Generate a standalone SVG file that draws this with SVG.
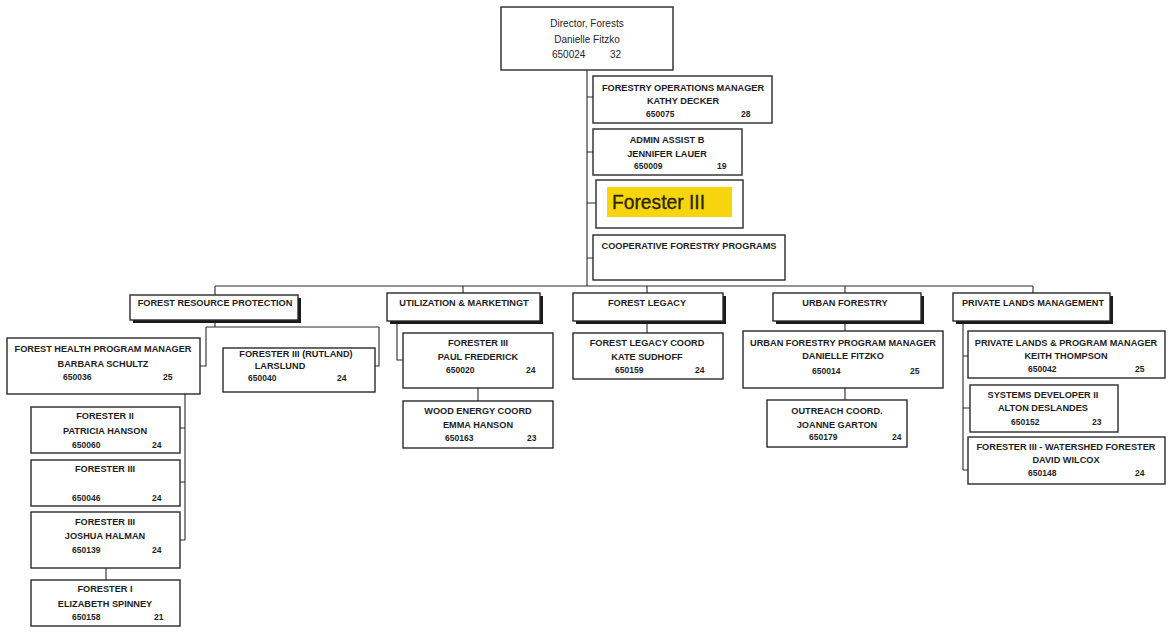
<svg xmlns="http://www.w3.org/2000/svg" width="1172" height="634" viewBox="0 0 1172 634">
<style>
.bx{fill:#fff;stroke:#2a2a2a;stroke-width:1.4}
.sh{fill:#1a1a1a}
.ln{stroke:#2a2a2a;stroke-width:1.1;fill:none}
.t{font-family:"Liberation Sans",Arial,sans-serif;font-weight:bold;font-size:9.2px;fill:#1e1e1e;text-anchor:middle}
.n{font-family:"Liberation Sans",Arial,sans-serif;font-weight:bold;font-size:8.5px;fill:#1e1e1e}
.d{font-family:"Liberation Sans",Arial,sans-serif;font-size:10px;fill:#1e1e1e}
</style>
<rect width="1172" height="634" fill="#fff"/>

<g id="connectors">
<path class="ln" d="M587 70V286M587 97H593M587 152H593M587 203H596M587 258H593"/>
<path class="ln" d="M215 286H1033M215 286V295M463 286V293M647 286V293M845 286V293M1033 286V293"/>
<path class="ln" d="M215 323V327M206 327H379M206 327V366H200M379 327V366H375"/>
<path class="ln" d="M185 394V540M180 428H185M180 482H185M180 540H185M106 568V580"/>
<path class="ln" d="M397 323V360H403M478 388V401"/>
<path class="ln" d="M647 323V333"/>
<path class="ln" d="M845 322V331M845 388V400"/>
<path class="ln" d="M963 322V470M963 356H968M963 408H970M963 470H968"/>
</g>

<g id="director">
<rect class="bx" x="501" y="7" width="172" height="63" stroke-width="1.8"/>
<text class="d" x="587" y="26.5" text-anchor="middle">Director, Forests</text>
<text class="d" x="587" y="42.5" text-anchor="middle">Danielle Fitzko</text>
<text class="d" x="552" y="58">650024</text>
<text class="d" x="610" y="58">32</text>
</g>

<g id="ops-manager">
<rect class="bx" x="593" y="76" width="179" height="47"/>
<text class="t" x="683" y="90.5">FORESTRY OPERATIONS MANAGER</text>
<text class="t" x="683" y="103.5">KATHY DECKER</text>
<text class="n" x="646" y="116.5">650075</text>
<text class="n" x="741" y="116.5">28</text>
</g>

<g id="admin-assist">
<rect class="bx" x="593" y="129" width="149" height="46"/>
<text class="t" x="667" y="142.5">ADMIN ASSIST B</text>
<text class="t" x="667" y="156.5">JENNIFER LAUER</text>
<text class="n" x="634" y="169">650009</text>
<text class="n" x="717" y="169">19</text>
</g>

<g id="forester-iii-top">
<rect class="bx" x="596" y="180" width="147" height="48" stroke-width="1.7"/>
<rect x="607" y="187" width="125" height="30" fill="#f6d50f"/>
<text x="612" y="209" font-family="'Liberation Sans',Arial,sans-serif" font-size="20" fill="#2b2200" stroke="#2b2200" stroke-width="0.3" textLength="93" lengthAdjust="spacingAndGlyphs">Forester III</text>
</g>

<g id="cooperative">
<rect class="bx" x="593" y="235" width="192" height="45"/>
<text class="t" x="689" y="248.5">COOPERATIVE FORESTRY PROGRAMS</text>
</g>

<g id="forest-resource-protection">
<rect class="sh" x="133" y="298" width="168" height="25"/>
<rect class="bx" x="130" y="295" width="168" height="25"/>
<text class="t" x="215" y="306">FOREST RESOURCE PROTECTION</text>
</g>

<g id="utilization">
<rect class="sh" x="390" y="296" width="153" height="28"/>
<rect class="bx" x="387" y="293" width="153" height="28"/>
<text class="t" x="464" y="306">UTILIZATION &amp;  MARKETINGT</text>
</g>

<g id="forest-legacy">
<rect class="sh" x="576" y="296" width="150" height="28"/>
<rect class="bx" x="573" y="293" width="150" height="28"/>
<text class="t" x="647" y="306">FOREST LEGACY</text>
</g>

<g id="urban-forestry">
<rect class="sh" x="776" y="296" width="148" height="28"/>
<rect class="bx" x="773" y="293" width="148" height="28"/>
<text class="t" x="845" y="306">URBAN FORESTRY</text>
</g>

<g id="private-lands">
<rect class="sh" x="956" y="296" width="157" height="28"/>
<rect class="bx" x="953" y="293" width="157" height="28"/>
<text class="t" x="1033" y="306">PRIVATE LANDS MANAGEMENT</text>
</g>

<g id="forest-health">
<rect class="bx" x="7" y="338" width="193" height="56"/>
<text class="t" x="103" y="352">FOREST HEALTH PROGRAM MANAGER</text>
<text class="t" x="103" y="367">BARBARA SCHULTZ</text>
<text class="n" x="63" y="380">650036</text>
<text class="n" x="163" y="380">25</text>
</g>

<g id="larslund">
<rect class="bx" x="223" y="348" width="152" height="44"/>
<text class="t" x="296" y="357">FORESTER III (RUTLAND)</text>
<text class="t" x="280" y="368.5">LARSLUND</text>
<text class="n" x="248" y="380.5">650040</text>
<text class="n" x="337" y="380.5">24</text>
</g>

<g id="patricia">
<rect class="bx" x="31" y="407" width="149" height="46"/>
<text class="t" x="105" y="419">FORESTER II</text>
<text class="t" x="105" y="434">PATRICIA HANSON</text>
<text class="n" x="72" y="448">650060</text>
<text class="n" x="152" y="448">24</text>
</g>

<g id="forester-650046">
<rect class="bx" x="31" y="460" width="149" height="46"/>
<text class="t" x="105" y="472">FORESTER III</text>
<text class="n" x="72" y="501">650046</text>
<text class="n" x="152" y="501">24</text>
</g>

<g id="joshua">
<rect class="bx" x="31" y="512" width="149" height="56"/>
<text class="t" x="105" y="525">FORESTER III</text>
<text class="t" x="105" y="539">JOSHUA HALMAN</text>
<text class="n" x="72" y="553">650139</text>
<text class="n" x="152" y="553">24</text>
</g>

<g id="elizabeth">
<rect class="bx" x="31" y="580" width="149" height="46"/>
<text class="t" x="105" y="592">FORESTER I</text>
<text class="t" x="105" y="607">ELIZABETH SPINNEY</text>
<text class="n" x="72" y="620">650158</text>
<text class="n" x="154" y="620">21</text>
</g>

<g id="paul">
<rect class="bx" x="403" y="333" width="150" height="55"/>
<text class="t" x="478" y="346">FORESTER III</text>
<text class="t" x="478" y="360">PAUL FREDERICK</text>
<text class="n" x="446" y="373">650020</text>
<text class="n" x="526" y="373">24</text>
</g>

<g id="wood-energy">
<rect class="bx" x="403" y="401" width="150" height="47"/>
<text class="t" x="478" y="414">WOOD ENERGY COORD</text>
<text class="t" x="478" y="428">EMMA HANSON</text>
<text class="n" x="445" y="441">650163</text>
<text class="n" x="527" y="441">23</text>
</g>

<g id="kate">
<rect class="bx" x="573" y="333" width="150" height="46"/>
<text class="t" x="647" y="346">FOREST LEGACY COORD</text>
<text class="t" x="647" y="360">KATE SUDHOFF</text>
<text class="n" x="615" y="373">650159</text>
<text class="n" x="695" y="373">24</text>
</g>

<g id="urban-pm">
<rect class="bx" x="743" y="331" width="200" height="57"/>
<text class="t" x="843" y="346">URBAN FORESTRY PROGRAM MANAGER</text>
<text class="t" x="843" y="359">DANIELLE FITZKO</text>
<text class="n" x="812" y="374">650014</text>
<text class="n" x="910" y="374">25</text>
</g>

<g id="outreach">
<rect class="bx" x="767" y="400" width="140" height="47"/>
<text class="t" x="837" y="414">OUTREACH COORD.</text>
<text class="t" x="837" y="428">JOANNE GARTON</text>
<text class="n" x="809" y="440">650179</text>
<text class="n" x="892" y="440">24</text>
</g>

<g id="keith">
<rect class="bx" x="968" y="331" width="197" height="47"/>
<text class="t" x="1066" y="346">PRIVATE LANDS &amp; PROGRAM MANAGER</text>
<text class="t" x="1066" y="359">KEITH THOMPSON</text>
<text class="n" x="1028" y="372">650042</text>
<text class="n" x="1135" y="372">25</text>
</g>

<g id="alton">
<rect class="bx" x="970" y="385" width="148" height="47"/>
<text class="t" x="1043" y="398">SYSTEMS DEVELOPER II</text>
<text class="t" x="1043" y="411">ALTON DESLANDES</text>
<text class="n" x="1011" y="425">650152</text>
<text class="n" x="1092" y="425">23</text>
</g>

<g id="david">
<rect class="bx" x="968" y="437" width="197" height="47"/>
<text class="t" x="1066" y="450">FORESTER III - WATERSHED FORESTER</text>
<text class="t" x="1066" y="463">DAVID WILCOX</text>
<text class="n" x="1028" y="476">650148</text>
<text class="n" x="1135" y="476">24</text>
</g>
</svg>
